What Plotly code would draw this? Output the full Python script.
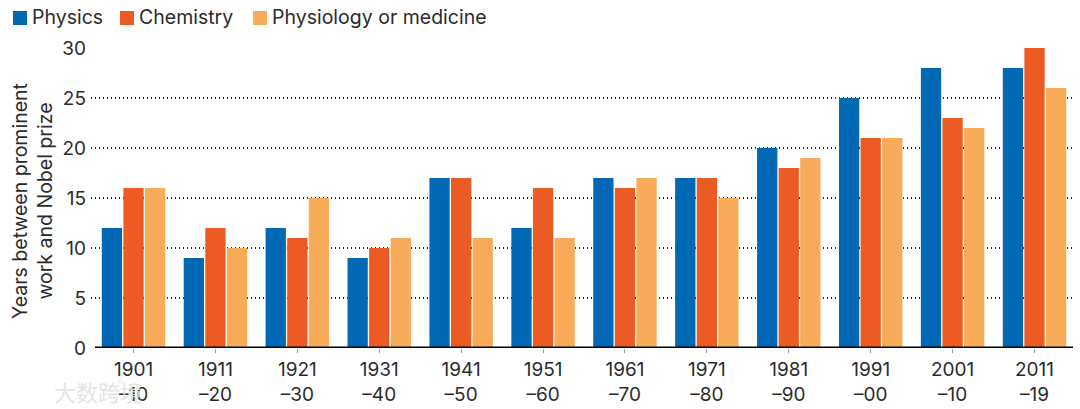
import plotly.graph_objects as go

decades = ["1901<br>–10", "1911<br>–20", "1921<br>–30", "1931<br>–40", "1941<br>–50", "1951<br>–60",
           "1961<br>–70", "1971<br>–80", "1981<br>–90", "1991<br>–00", "2001<br>–10", "2011<br>–19"]
physics = [12, 9, 12, 9, 17, 12, 17, 17, 20, 25, 28, 28]
chemistry = [16, 12, 11, 10, 17, 16, 16, 17, 18, 21, 23, 30]
medicine = [16, 10, 15, 11, 11, 11, 17, 15, 19, 21, 22, 26]
positions = list(range(len(decades)))

W, H = 1080, 409
L, R, T, B = 91, 7, 48, 61
FONT = "Inter, sans-serif"
TXT = "#2b2b2b"
SERIES = [("Physics", physics, "#0068B4", 13), ("Chemistry", chemistry, "#EC5B24", 120),
          ("Physiology or medicine", medicine, "#F8AC5A", 253)]

def px(x):
    return (x - L) / (W - L - R)

def py(y):
    return 1 - (y - T) / (H - T - B)

fig = go.Figure()
shapes = [dict(type="line", xref="paper", yref="y", x0=px(95), x1=1, y0=0, y1=0,
               line=dict(color="black", width=3), layer="above")]
annotations = [dict(text="Years between prominent<br>work and Nobel prize", xref="paper", yref="paper",
                    x=px(32), y=py(201), textangle=-90, showarrow=False, xanchor="center", yanchor="middle",
                    font=dict(size=19.5, color=TXT)),
               dict(text="大数跨境", xref="paper", yref="paper", x=px(52), y=py(391),
                    xanchor="left", yanchor="middle", showarrow=False,
                    font=dict(family="Noto Sans CJK SC", size=22, color="rgba(225,225,225,0.9)"))]
for name, vals, col, lx in SERIES:
    fig.add_bar(x=positions, y=vals, name=name, marker_color=col, marker_line_width=0)
    shapes.append(dict(type="rect", xref="paper", yref="paper", x0=px(lx), x1=px(lx + 14),
                       y0=py(25), y1=py(11), fillcolor=col, line_width=0))
    annotations.append(dict(text=name, xref="paper", yref="paper", x=px(lx + 17), y=py(17),
                            xanchor="left", yanchor="middle", showarrow=False,
                            font=dict(size=19.5, color=TXT)))

fig.update_layout(
    width=W, height=H, autosize=False,
    margin=dict(l=L, r=R, t=T, b=B, autoexpand=False),
    paper_bgcolor="white", plot_bgcolor="white",
    font=dict(family=FONT, size=19, color=TXT),
    barmode="group", bargap=0.21, bargroupgap=0.06,
    showlegend=False,
    xaxis=dict(range=[-0.519, 11.47], tickmode="array", tickvals=positions, ticktext=decades,
               automargin=False, showgrid=False, zeroline=False, ticks="outside", ticklen=4, tickwidth=1,
               tickcolor="#999999", tickfont=dict(size=19, color=TXT)),
    yaxis=dict(range=[0, 30], tickvals=[0, 5, 10, 15, 20, 25, 30], showgrid=True, automargin=False,
               gridcolor="#333333", griddash="1px,3px", gridwidth=1.5, zeroline=False,
               ticks="", ticklabelstandoff=4, tickfont=dict(size=19, color=TXT)),
    shapes=shapes,
    annotations=annotations,
)
fig.write_html("out.html", config={"displayModeBar": False}, post_script="document.body.style.margin='0';")
